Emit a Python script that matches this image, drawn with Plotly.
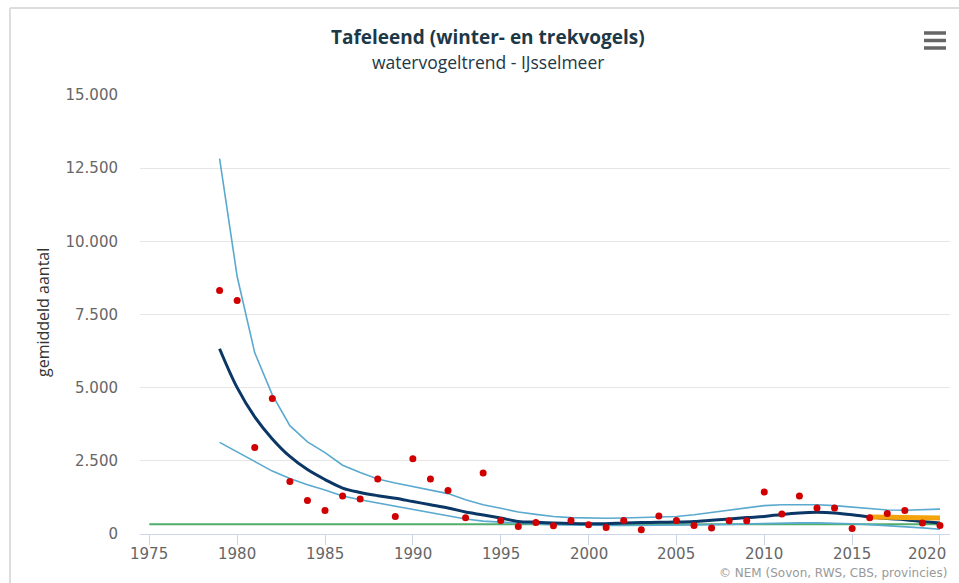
import plotly.graph_objects as go

years = list(range(1979, 2021))

counts = [8319, 7977, 2957, 4631, 1796, 1147, 806, 1298, 1195, 1878,
          601, 2571, 1878, 1489, 557, 2083, 464, 259, 396, 283,
          464, 318, 225, 464, 147, 615, 464, 294, 205, 454,
          454, 1434, 683, 1298, 888, 888, 191, 557, 703, 806,
          376, 294]

trend = [6330, 5000, 4000, 3250, 2650, 2200, 1860, 1570, 1420, 1310,
         1220, 1110, 1000, 890, 750, 650, 545, 430, 400, 375,
         360, 350, 350, 375, 390, 400, 410, 430, 470, 510,
         560, 600, 670, 720, 740, 720, 660, 580, 530, 490,
         430, 375]

upper = [12830, 8797, 6191, 4757, 3700, 3150, 2780, 2350, 2100, 1880,
         1740, 1620, 1510, 1380, 1170, 1000, 880, 750, 670, 600,
         560, 545, 540, 545, 560, 580, 600, 660, 740, 830,
         900, 970, 1000, 1010, 1000, 970, 920, 860, 820, 810,
         820, 850]

lower = [3130, 2800, 2480, 2150, 1900, 1680, 1500, 1300, 1170, 1060,
         950, 850, 740, 630, 510, 440, 400, 370, 340, 320,
         305, 295, 290, 290, 290, 295, 300, 310, 320, 335,
         345, 360, 375, 380, 380, 370, 350, 320, 290, 250,
         210, 160]

short_years = [2016, 2017, 2018, 2019, 2020]
short_trend = [580, 570, 562, 554, 546]

ref_years = [1975, 2020]
ref_level = [330, 330]

y_ticks = [0, 2500, 5000, 7500, 10000, 12500, 15000]
x_ticks = list(range(1975, 2021, 5))

L, R, T, B = 140, 9, 95, 49
W, H = 959, 583
PW, PH = W - L - R, H - T - B


def px(x):
    return (x - L) / PW


def py(y):
    return (H - B - y) / PH


fig = go.Figure()
fig.add_trace(go.Scatter(x=ref_years, y=ref_level, mode="lines",
                         line=dict(color="#4fae6b", width=2), hoverinfo="skip"))
fig.add_trace(go.Scatter(x=years, y=lower, mode="lines",
                         line=dict(color="#5aa9cf", width=1.6), hoverinfo="skip"))
fig.add_trace(go.Scatter(x=years, y=upper, mode="lines",
                         line=dict(color="#5aa9cf", width=1.6), hoverinfo="skip"))
fig.add_trace(go.Scatter(x=years, y=trend, mode="lines",
                         line=dict(color="#0b3766", width=3, shape="spline"),
                         hoverinfo="skip"))
fig.add_trace(go.Scatter(x=short_years, y=short_trend, mode="lines",
                         line=dict(color="#f5a20f", width=5), hoverinfo="skip"))
fig.add_trace(go.Scatter(x=years, y=counts, mode="markers",
                         marker=dict(color="#d00000", size=7), hoverinfo="skip"))

fig.update_layout(
    width=W, height=H,
    margin=dict(l=L, r=R, t=T, b=B),
    paper_bgcolor="white", plot_bgcolor="white",
    showlegend=False,
    separators=",.",
    font=dict(family="DejaVu Sans", color="#666666"),
    xaxis=dict(range=[1974.47, 2020.57], tickvals=x_ticks, showgrid=False,
               zeroline=False, showline=True, linecolor="#ccd6eb", linewidth=1,
               ticks="outside", ticklen=10, tickcolor="#ccd6eb", tickwidth=1,
               showticklabels=False, automargin=False),
    yaxis=dict(range=[0, 15000], tickvals=y_ticks, tickformat=",d",
               showgrid=True, gridcolor="#e6e6e6", gridwidth=1,
               zeroline=False, showline=False, automargin=False,
               ticks="outside", ticklen=18, tickcolor="rgba(0,0,0,0)",
               tickfont=dict(size=15, color="#666666", family="DejaVu Sans")),
)

annotations = [
    dict(text="<b>Tafeleend (winter- en trekvogels)</b>", x=px(487.5), y=py(36.7),
         font=dict(family="Open Sans", size=19, color="#1d3846")),
    dict(text="watervogeltrend - IJsselmeer", x=px(487.5), y=py(62.3),
         font=dict(family="Open Sans", size=17.5, color="#1d3846")),
    dict(text="gemiddeld aantal", x=px(43), y=py(313), textangle=-90,
         font=dict(family="Open Sans", size=16, color="#333333")),
    dict(text="© NEM (Sovon, RWS, CBS, provincies)", x=px(949), y=py(572.7),
         xanchor="right", font=dict(family="DejaVu Sans", size=12, color="#999999")),
]
for a in annotations:
    a.setdefault("xanchor", "center")
    a.update(xref="paper", yref="paper", yanchor="middle", showarrow=False)

# x tick labels (last one justified inside the chart, as in the reference)
for i, yr in enumerate(x_ticks):
    last = i == len(x_ticks) - 1
    annotations.append(dict(
        text=str(yr), x=yr, xref="x", y=py(553.5), yref="paper",
        xanchor="right" if last else "center", xshift=8 if last else 0,
        yanchor="middle", showarrow=False,
        font=dict(family="DejaVu Sans", size=15, color="#666666")))
fig.update_layout(annotations=annotations)

shapes = []
for yy in (33, 40.5, 48):
    shapes.append(dict(type="line", xref="paper", yref="paper",
                       x0=px(924), x1=px(946), y0=py(yy), y1=py(yy),
                       line=dict(color="#666666", width=3.5)))
shapes.append(dict(type="line", xref="paper", yref="paper",
                   x0=px(10), x1=px(10), y0=py(583), y1=py(8),
                   line=dict(color="#dddddd", width=2)))
shapes.append(dict(type="line", xref="paper", yref="paper",
                   x0=px(10), x1=px(959), y0=py(8), y1=py(8),
                   line=dict(color="#dddddd", width=2)))
fig.update_layout(shapes=shapes)

fig.write_html("out.html", config={"displayModeBar": False},
               post_script="document.body.style.margin='0';document.body.style.padding='0';")
